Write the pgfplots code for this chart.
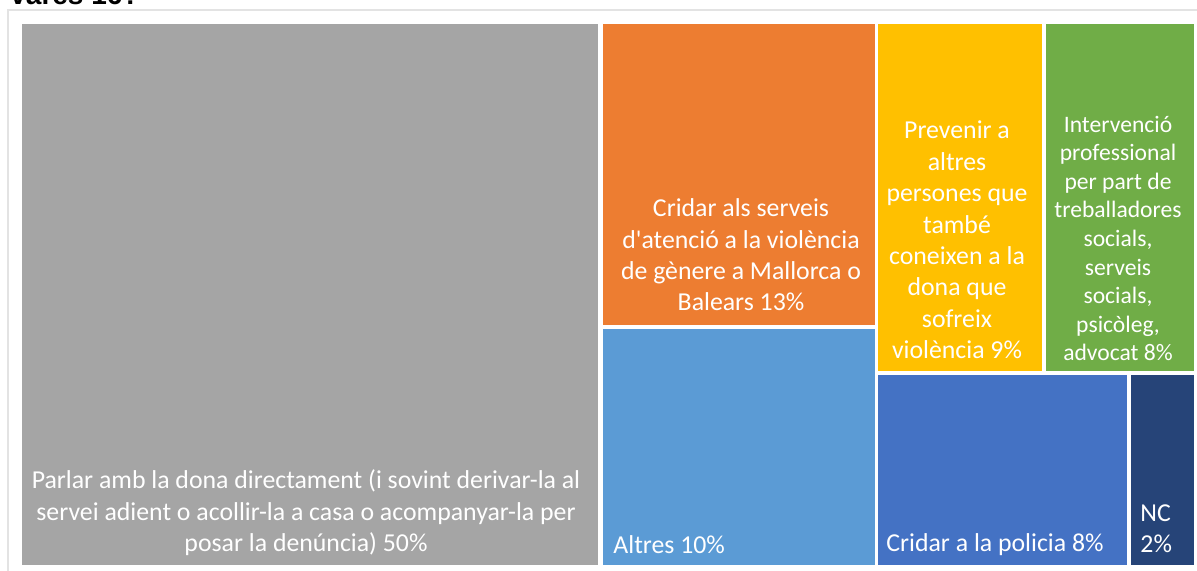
\documentclass[border=0pt]{standalone}
\usepackage{pgfplots}
\pgfplotsset{compat=1.18}
\usepackage{fontspec}
\setmainfont{Carlito}
\newfontfamily\titlefont{Liberation Sans}
\definecolor{cgray}{HTML}{A5A5A5}
\definecolor{corange}{HTML}{ED7D31}
\definecolor{clblue}{HTML}{5B9BD5}
\definecolor{cyellow}{HTML}{FFC000}
\definecolor{cgreen}{HTML}{70AD47}
\definecolor{cblue}{HTML}{4472C4}
\definecolor{cnavy}{HTML}{264478}
\definecolor{cborder}{HTML}{E3E3E3}
\begin{document}
\begin{tikzpicture}
\useasboundingbox (0,0) rectangle (598.5pt,285.5pt);
\clip (0,0) rectangle (598.5pt,285.5pt);
\fill[white] (0,0) rectangle (598.5pt,285.5pt);
\begin{axis}[at={(0,0)}, anchor=south west, scale only axis,
  width=598.5pt, height=285.5pt,
  xmin=0, xmax=1197, ymin=0, ymax=571, y dir=reverse,
  hide axis, clip=false]
% outer frame
\draw[cborder, line width=0.8pt] (axis cs:8,580) -- (axis cs:8,10) -- (axis cs:1210,10);
% title (cut off)
\node[anchor=base west, font={\titlefont\bfseries\fontsize{14}{16}\selectfont}, text=black, inner sep=0pt] at (axis cs:10,5) {vares 16?};
% treemap rectangles (pixel coordinates)
\addplot[fill=cgray, draw=none] coordinates {(22,24) (598,24) (598,565) (22,565)} -- cycle;
\addplot[fill=corange, draw=none] coordinates {(603,24) (875,24) (875,325) (603,325)} -- cycle;
\addplot[fill=clblue, draw=none] coordinates {(603,329) (875,329) (875,565) (603,565)} -- cycle;
\addplot[fill=cyellow, draw=none] coordinates {(878,24) (1042,24) (1042,371) (878,371)} -- cycle;
\addplot[fill=cgreen, draw=none] coordinates {(1046,24) (1194,24) (1194,371) (1046,371)} -- cycle;
\addplot[fill=cblue, draw=none] coordinates {(878,375) (1127,375) (1127,565) (878,565)} -- cycle;
\addplot[fill=cnavy, draw=none] coordinates {(1131,375) (1194,375) (1194,565) (1131,565)} -- cycle;
% labels
\tikzset{lab/.style={text=white, inner sep=0pt, font={\fontsize{12.9}{15.7}\selectfont}}}
\node[lab, align=center] at (axis cs:306,513) {Parlar amb la dona directament (i sovint derivar-la al\\servei adient o acollir-la a casa o acompanyar-la per\\posar la denúncia) 50\%};
\node[lab, align=center] at (axis cs:741,255) {Cridar als serveis\\d\textquotesingle atenció a la violència\\de gènere a Mallorca o\\Balears 13\%};
\node[lab, anchor=west] at (axis cs:613,545) {Altres 10\%};
\node[lab, align=center] at (axis cs:957,240) {Prevenir a\\altres\\persones que\\també\\coneixen a la\\dona que\\sofreix\\violència 9\%};
\node[lab, align=center, font={\fontsize{11.8}{14.3}\selectfont}] at (axis cs:1118,238.5) {Intervenció\\professional\\per part de\\treballadores\\socials,\\serveis\\socials,\\psicòleg,\\advocat 8\%};
\node[lab, anchor=west] at (axis cs:886,545) {Cridar a la policia 8\%};
\node[lab, align=left, anchor=west] at (axis cs:1140,529) {NC\\2\%};
\end{axis}
\end{tikzpicture}
\end{document}
